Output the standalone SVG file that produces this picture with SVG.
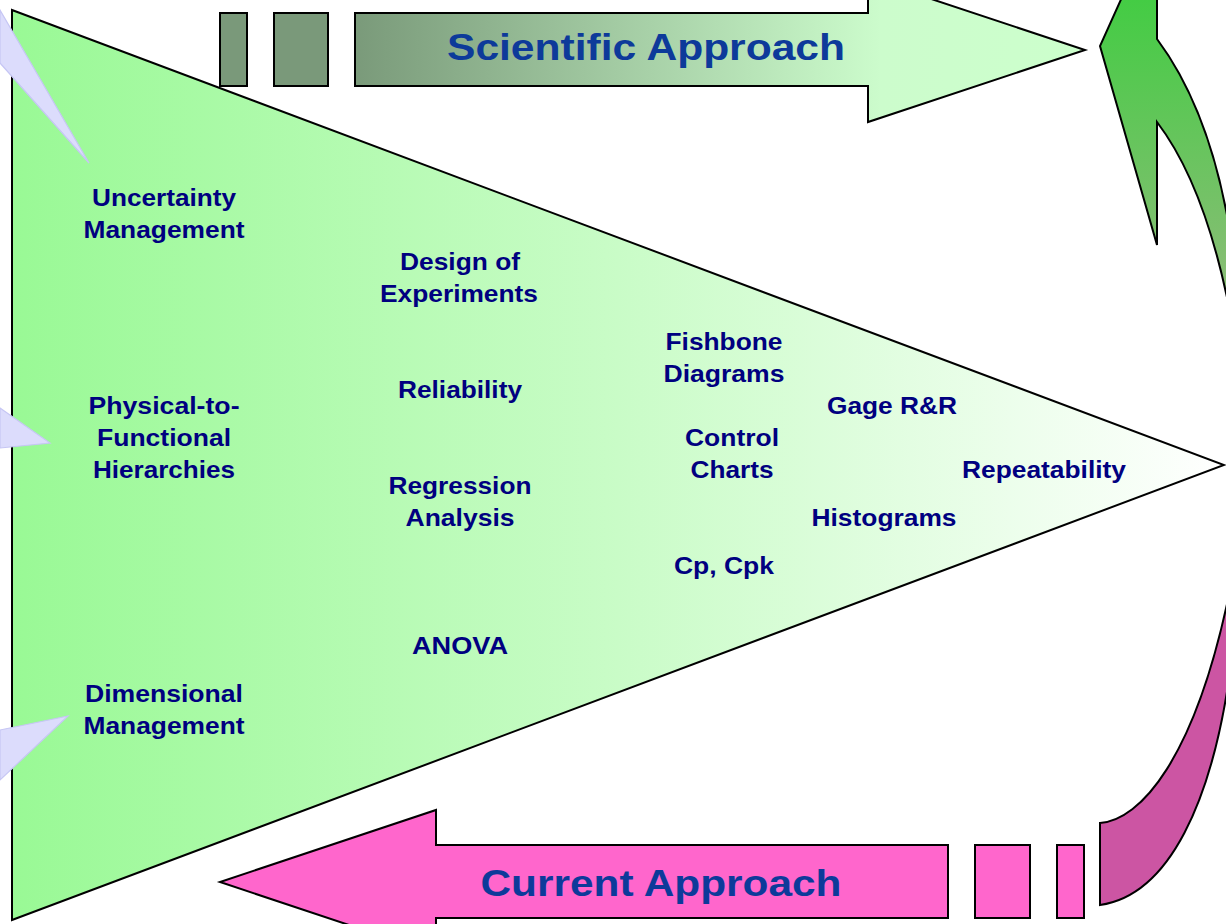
<svg xmlns="http://www.w3.org/2000/svg" width="1226" height="924" viewBox="0 0 1226 924">
  <defs>
    <linearGradient id="triGrad" gradientUnits="userSpaceOnUse" x1="12" y1="0" x2="1224" y2="0">
      <stop offset="0" stop-color="#99f995"/>
      <stop offset="0.5" stop-color="#c9fcc7"/>
      <stop offset="1" stop-color="#ffffff"/>
    </linearGradient>
    <linearGradient id="sciGrad" gradientUnits="userSpaceOnUse" x1="355" y1="0" x2="1085" y2="0">
      <stop offset="0" stop-color="#7a9a7a"/>
      <stop offset="0.72" stop-color="#ccfccc"/>
      <stop offset="1" stop-color="#ccffcc"/>
    </linearGradient>
    <linearGradient id="greenCurve" gradientUnits="userSpaceOnUse" x1="0" y1="0" x2="0" y2="310">
      <stop offset="0" stop-color="#44cc44"/>
      <stop offset="1" stop-color="#8fbc7a"/>
    </linearGradient>
    <style>
      .outline { stroke: #000000; stroke-width: 2; stroke-linejoin: miter; }
      .lav { fill: #dcdcfc; stroke: #c6c6f4; stroke-width: 1.2; }
      .lbl { font-family: "Liberation Sans", Arial, sans-serif; font-weight: bold; font-size: 24px; fill: #000080; text-anchor: middle; }
      .title { font-family: "Liberation Sans", Arial, sans-serif; font-weight: bold; font-size: 37px; fill: #0d3a9a; text-anchor: middle; }
    </style>
  </defs>

  <rect x="0" y="0" width="1226" height="924" fill="#ffffff"/>

  <g id="connectors">
    <g id="scientific-arrow">
      <rect x="220" y="13" width="27" height="73" fill="#7a997a" class="outline"/>
      <rect x="274" y="13" width="54" height="73" fill="#7a997a" class="outline"/>
      <polygon points="355,13 868,13 868,-22 1085,50 868,122 868,86 355,86" fill="url(#sciGrad)" class="outline"/>
    </g>
    <g id="current-arrow">
      <rect x="975" y="845" width="55" height="73" fill="#ff66cc" class="outline"/>
      <rect x="1057" y="845" width="27" height="73" fill="#ff66cc" class="outline"/>
      <polygon points="948,845 436,845 436,810 220,882 436,954 436,918 948,918" fill="#ff66cc" class="outline"/>
    </g>
    <path id="green-curved-arrow" d="M1123,-5 L1100,46 L1157,245 L1157,122 Q1205,185 1230,312 L1230,232 Q1210,110 1157,39 L1157,-5 Z" fill="url(#greenCurve)" class="outline"/>
    <path id="pink-curved-arrow" d="M1100,823 C1140,820 1195,760 1230,590 L1230,672 C1212,800 1170,895 1100,905 Z" fill="#cc55a3" class="outline"/>
  </g>

  <g id="funnel">
    <polygon points="12,10 1224,465 12,920" fill="url(#triGrad)" class="outline"/>
  </g>

  <g id="pointers">
    <polygon class="lav" points="0,10 89,163 0,63"/>
    <polygon class="lav" points="0,408 50,443 0,448"/>
    <polygon class="lav" points="0,730 68,716 0,780"/>
  </g>

  <g id="title-scientific"><text class="title" x="646" y="60" textLength="398" lengthAdjust="spacingAndGlyphs">Scientific Approach</text></g>
  <g id="title-current"><text class="title" x="661" y="896" textLength="361" lengthAdjust="spacingAndGlyphs">Current Approach</text></g>

  <g id="node-uncertainty">
    <text class="lbl" x="164" y="206" textLength="144" lengthAdjust="spacingAndGlyphs">Uncertainty</text>
    <text class="lbl" x="164" y="238" textLength="161" lengthAdjust="spacingAndGlyphs">Management</text>
  </g>
  <g id="node-physical">
    <text class="lbl" x="164" y="414" textLength="151" lengthAdjust="spacingAndGlyphs">Physical-to-</text>
    <text class="lbl" x="164" y="446" textLength="134" lengthAdjust="spacingAndGlyphs">Functional</text>
    <text class="lbl" x="164" y="478" textLength="142" lengthAdjust="spacingAndGlyphs">Hierarchies</text>
  </g>
  <g id="node-dimensional">
    <text class="lbl" x="164" y="702" textLength="158" lengthAdjust="spacingAndGlyphs">Dimensional</text>
    <text class="lbl" x="164" y="734" textLength="161" lengthAdjust="spacingAndGlyphs">Management</text>
  </g>
  <g id="node-doe">
    <text class="lbl" x="460" y="270" textLength="120" lengthAdjust="spacingAndGlyphs">Design of</text>
    <text class="lbl" x="459" y="302" textLength="158" lengthAdjust="spacingAndGlyphs">Experiments</text>
  </g>
  <g id="node-reliability">
    <text class="lbl" x="460" y="398" textLength="124" lengthAdjust="spacingAndGlyphs">Reliability</text>
  </g>
  <g id="node-regression">
    <text class="lbl" x="460" y="494" textLength="143" lengthAdjust="spacingAndGlyphs">Regression</text>
    <text class="lbl" x="460" y="526" textLength="109" lengthAdjust="spacingAndGlyphs">Analysis</text>
  </g>
  <g id="node-anova">
    <text class="lbl" x="460" y="654" textLength="96" lengthAdjust="spacingAndGlyphs">ANOVA</text>
  </g>
  <g id="node-fishbone">
    <text class="lbl" x="724" y="350" textLength="117" lengthAdjust="spacingAndGlyphs">Fishbone</text>
    <text class="lbl" x="724" y="382" textLength="121" lengthAdjust="spacingAndGlyphs">Diagrams</text>
  </g>
  <g id="node-control">
    <text class="lbl" x="732" y="446" textLength="94" lengthAdjust="spacingAndGlyphs">Control</text>
    <text class="lbl" x="732" y="478" textLength="83" lengthAdjust="spacingAndGlyphs">Charts</text>
  </g>
  <g id="node-cpk">
    <text class="lbl" x="724" y="574" textLength="100" lengthAdjust="spacingAndGlyphs">Cp, Cpk</text>
  </g>
  <g id="node-gage">
    <text class="lbl" x="892" y="414" textLength="130" lengthAdjust="spacingAndGlyphs">Gage R&amp;R</text>
  </g>
  <g id="node-repeatability">
    <text class="lbl" x="1044" y="478" textLength="164" lengthAdjust="spacingAndGlyphs">Repeatability</text>
  </g>
  <g id="node-histograms">
    <text class="lbl" x="884" y="526" textLength="145" lengthAdjust="spacingAndGlyphs">Histograms</text>
  </g>
</svg>
